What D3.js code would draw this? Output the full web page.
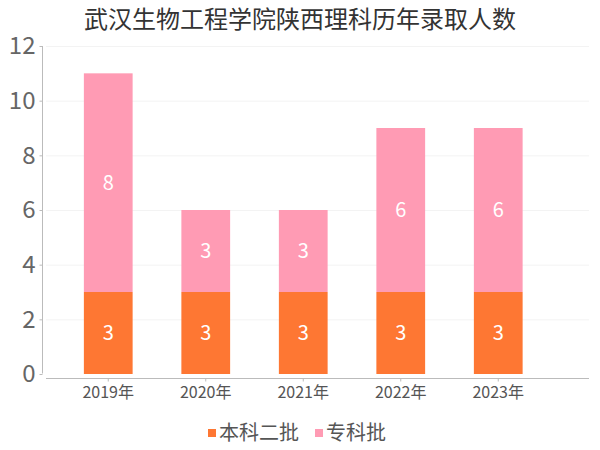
<!DOCTYPE html>
<html>
<head>
<meta charset="utf-8">
<script src="https://cdn.jsdelivr.net/npm/d3@7"></script>
<style>
  body { margin: 0; background: #fff; }
  text { font-family: "Noto Sans CJK SC", "Noto Sans", sans-serif; }
</style>
</head>
<body>
<div id="chart"></div>
<script>
    // 数据
    var years = ["2019年", "2020年", "2021年", "2022年", "2023年"];
    var benke = [3, 3, 3, 3, 3];      // 本科二批
    var zhuanke = [8, 3, 3, 6, 6];    // 专科批
    var seriesNames = ["本科二批", "专科批"];
    var yTicks = [0, 2, 4, 6, 8, 10, 12];
    var colors = ["#fe7733", "#ff9bb4"];

    var svg = d3.select("#chart").append("svg").attr("width", 600).attr("height", 450);

    var x = d3.scaleBand().domain(years).range([59.5, 547]).paddingInner(0.5).paddingOuter(0.25);
    var y = d3.scaleLinear().domain([0, 12]).range([374, 46]);

    // 标题
    svg.append("text")
      .attr("x", 300).attr("y", 28)
      .style("text-anchor", "middle")
      .style("font-size", "24px")
      .style("fill", "#333")
      .text("武汉生物工程学院陕西理科历年录取人数");

    // 网格线
    svg.selectAll("line.grid")
      .data(yTicks.slice(1)).enter().append("line")
      .attr("class", "grid")
      .attr("x1", 46).attr("x2", 589)
      .attr("y1", function(d) { return y(d) + 0.5; })
      .attr("y2", function(d) { return y(d) + 0.5; })
      .style("stroke", "#f3f3f3").style("stroke-width", 1);

    // y 轴
    var yAxis = svg.append("g")
      .attr("transform", "translate(42.5,0)")
      .call(d3.axisLeft(y).tickValues(yTicks).tickSize(3).tickPadding(4));
    yAxis.select(".domain").style("stroke", "#bbb").attr("d", "M0," + y(12) + "V" + (y(0) - 0.5));
    yAxis.selectAll(".tick line").style("stroke", "#bbb");
    yAxis.selectAll(".tick text")
      .style("font-size", "24px").style("fill", "#666")
      .style("font-family", "'Noto Sans CJK SC', sans-serif");

    // 堆叠柱
    var stackData = years.map(function(d, i) { return { year: d, a: benke[i], b: zhuanke[i] }; });
    var stacked = d3.stack().keys(["a", "b"])(stackData);

    var layers = svg.selectAll("g.layer")
      .data(stacked).enter().append("g")
      .attr("class", "layer")
      .style("fill", function(d, i) { return colors[i]; });

    layers.selectAll("rect")
      .data(function(d) { return d; }).enter().append("rect")
      .attr("x", function(d) { return x(d.data.year); })
      .attr("width", x.bandwidth())
      .attr("y", function(d) { return y(d[1]); })
      .attr("height", function(d) { return y(d[0]) - y(d[1]); });

    layers.selectAll("text")
      .data(function(d) { return d; }).enter().append("text")
      .attr("x", function(d) { return x(d.data.year) + x.bandwidth() / 2; })
      .attr("y", function(d) { return (y(d[0]) + y(d[1])) / 2; })
      .attr("dy", "0.36em")
      .style("text-anchor", "middle")
      .style("font-size", "20px")
      .style("fill", "#fff")
      .text(function(d) { return d[1] - d[0]; });

    // x 轴
    var xAxis = svg.append("g")
      .attr("transform", "translate(0,378.5)")
      .call(d3.axisBottom(x).tickSize(3).tickPadding(5));
    xAxis.select(".domain").style("stroke", "#bbb").attr("d", "M46,0H589");
    xAxis.selectAll(".tick line").style("stroke", "#bbb");
    xAxis.selectAll(".tick text")
      .style("font-size", "16px").style("fill", "#555")
      .style("font-family", "'Noto Sans CJK SC', sans-serif");

    // 图例
    var legendX = [208, 315];
    var legend = svg.selectAll("g.legend")
      .data(seriesNames).enter().append("g")
      .attr("class", "legend")
      .attr("transform", function(d, i) { return "translate(" + legendX[i] + ",433)"; });
    legend.append("rect")
      .attr("x", 0).attr("y", -4).attr("width", 8).attr("height", 8)
      .style("fill", function(d, i) { return colors[i]; });
    legend.append("text")
      .attr("x", 11).attr("dy", "0.36em")
      .style("font-size", "20px").style("fill", "#555")
      .text(function(d) { return d; });
</script>
</body>
</html>
